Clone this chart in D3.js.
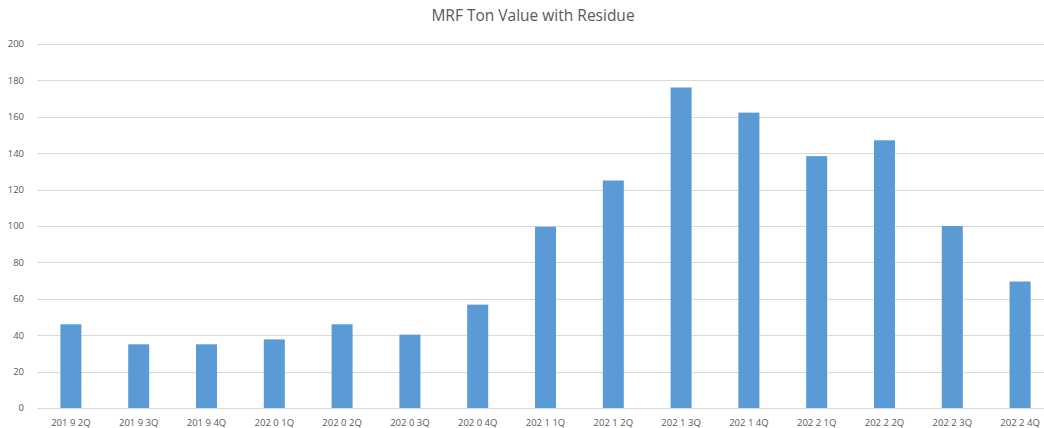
<!DOCTYPE html>
<html>
<head>
<meta charset="utf-8">
<script src="https://cdn.jsdelivr.net/npm/d3@7"></script>
<style>
  body { margin: 0; background: #fff; }
  svg text { font-family: "Open Sans", "Noto Sans", sans-serif; fill: #595959; }
</style>
</head>
<body>
<div id="chart"></div>
<script>
var categories = ["201 9 2Q", "201 9 3Q", "201 9 4Q", "202 0 1Q", "202 0 2Q", "202 0 3Q", "202 0 4Q",
    "202 1 1Q", "202 1 2Q", "202 1 3Q", "202 1 4Q", "202 2 1Q", "202 2 2Q", "202 2 3Q", "202 2 4Q"];
var tonValues = [46, 35, 35, 37.7, 46, 40.3, 56.8, 99.6, 125, 176.1, 162.3, 138.4, 147.1, 100, 69.5];
var yTicks = [0, 20, 40, 60, 80, 100, 120, 140, 160, 180, 200];
var title = "MRF Ton Value with Residue";

var width = 1044;
var height = 428;
var margin = {top: 44, right: -10, bottom: 20, left: 37};

var svg = d3.select("#chart").append("svg")
    .attr("width", width)
    .attr("height", height);

var chartWidth = width - margin.left - margin.right;
var chartHeight = height - margin.top - margin.bottom;

var xScale = d3.scaleBand()
    .domain(categories)
    .range([0, chartWidth])
    .paddingInner(0.69)
    .paddingOuter(0.345);

var yScale = d3.scaleLinear()
    .domain([0, 200])
    .range([chartHeight, 0]);

var overallG = svg.append("g")
    .attr("transform", "translate(" + margin.left + "," + margin.top + ")");

// gridlines
overallG.append("g")
    .selectAll("line")
    .data(yTicks)
    .enter()
    .append("line")
    .attr("x1", 0)
    .attr("x2", width - margin.left)
    .attr("y1", function(d){ return Math.round(yScale(d)) + 0.5; })
    .attr("y2", function(d){ return Math.round(yScale(d)) + 0.5; })
    .style("stroke", "#d9d9d9")
    .style("stroke-width", 1);

// y labels
overallG.append("g")
    .selectAll("text")
    .data(yTicks)
    .enter()
    .append("text")
    .attr("x", -13)
    .attr("y", function(d){ return yScale(d); })
    .attr("dy", "0.35em")
    .attr("text-anchor", "end")
    .style("font-size", "9.5px")
    .text(function(d){ return d; });

// bars
overallG.selectAll("rect.bar")
    .data(tonValues)
    .enter()
    .append("rect")
    .attr("class", "bar")
    .attr("x", function(d, i){ return xScale(categories[i]); })
    .attr("y", function(d){ return yScale(d); })
    .attr("width", xScale.bandwidth())
    .attr("height", function(d){ return chartHeight - yScale(d); })
    .style("fill", "#5b9bd5");

// x labels
overallG.append("g")
    .selectAll("text")
    .data(categories)
    .enter()
    .append("text")
    .attr("x", function(d){ return xScale(d) + xScale.bandwidth() / 2; })
    .attr("y", chartHeight + 15)
    .attr("dy", "0.35em")
    .attr("text-anchor", "middle")
    .style("font-size", "9.5px")
    .text(function(d){ return d; });

svg.append("text")
    .attr("x", 533)
    .attr("y", 16)
    .attr("dy", "0.35em")
    .attr("text-anchor", "middle")
    .style("font-size", "15.5px")
    .text(title);
</script>
</body>
</html>
